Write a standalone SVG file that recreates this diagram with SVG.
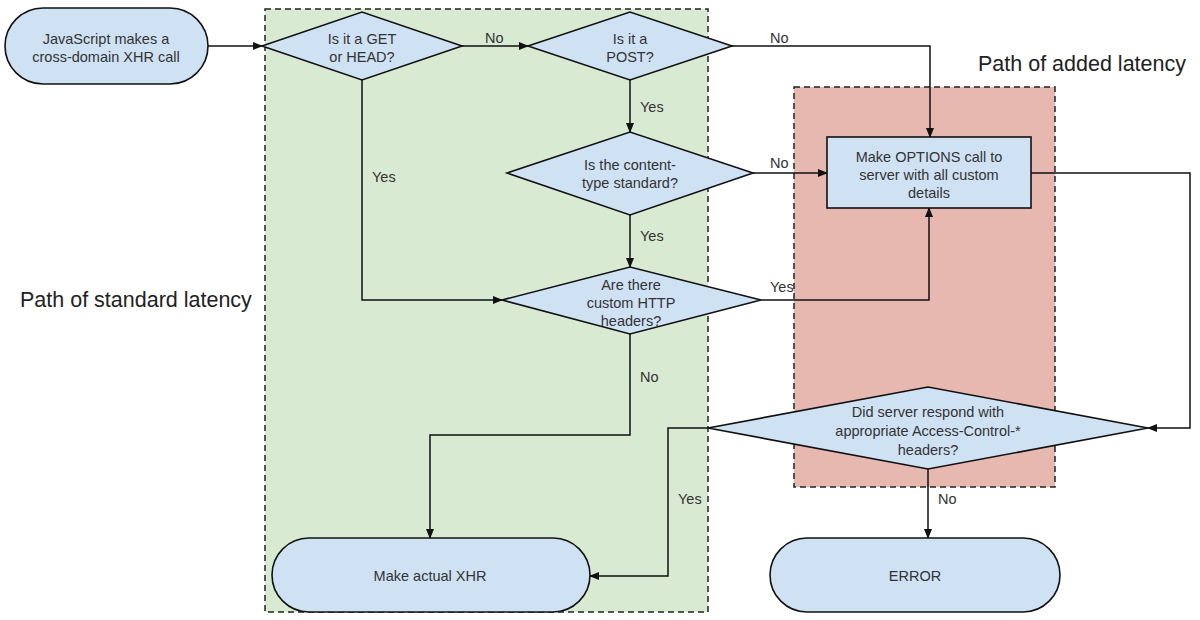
<svg xmlns="http://www.w3.org/2000/svg" width="1200" height="620" viewBox="0 0 1200 620">
<style>
.region{stroke:#222;stroke-width:1.5;stroke-dasharray:6 4}
.node{fill:#cfe2f3;stroke:#111;stroke-width:1.6}
.t{font-family:"Liberation Sans",Arial,sans-serif;font-size:14.5px;fill:#333;text-anchor:middle}
.lbl{font-family:"Liberation Sans",Arial,sans-serif;font-size:14.5px;fill:#333}
.big{font-family:"Liberation Sans",Arial,sans-serif;font-size:21.5px;fill:#222}
.c{fill:none;stroke:#111;stroke-width:1.5;marker-end:url(#ah)}
</style>
<defs>
<marker id="ah" markerWidth="10" markerHeight="8" refX="9" refY="4" orient="auto" markerUnits="userSpaceOnUse">
<path d="M0,0 L10,4 L0,8 z" fill="#111"/>
</marker>
</defs>
<rect width="1200" height="620" fill="#fff"/>
<g id="regions">
<rect class="region" x="265" y="9" width="443" height="603" fill="#d9ead3"/>
<rect class="region" x="794" y="87" width="261" height="400" fill="#e6b8af"/>
<text class="big" x="978" y="71">Path of added latency</text>
<text class="big" x="20" y="307">Path of standard latency</text>
</g>
<g id="connectors">
<path class="c" d="M208,46 H262"/>
<path class="c" d="M462,46 H528"/>
<path class="c" d="M732,46 H930 V137"/>
<path class="c" d="M630,80 V132"/>
<path class="c" d="M362,80 V300 H502"/>
<path class="c" d="M753,173 H827"/>
<path class="c" d="M630,215 V267"/>
<path class="c" d="M761,300 H929 V208"/>
<path class="c" d="M1031,173 H1190 V428 H1148"/>
<path class="c" d="M630,334 V435 H430 V538"/>
<path class="c" d="M708,428 H668 V576 H590"/>
<path class="c" d="M928,469 V538"/>
<text class="lbl" x="485" y="43">No</text>
<text class="lbl" x="770" y="43">No</text>
<text class="lbl" x="640" y="112">Yes</text>
<text class="lbl" x="372" y="182">Yes</text>
<text class="lbl" x="770" y="168">No</text>
<text class="lbl" x="640" y="241">Yes</text>
<text class="lbl" x="770" y="292">Yes</text>
<text class="lbl" x="640" y="382">No</text>
<text class="lbl" x="678" y="504">Yes</text>
<text class="lbl" x="938" y="504">No</text>
</g>
<g id="start">
<rect class="node" x="5" y="8" width="203" height="76" rx="38"/>
<text class="t" x="106" y="44">JavaScript makes a</text>
<text class="t" x="106" y="62">cross-domain XHR call</text>
</g>
<g id="d-get">
<polygon class="node" points="262,46 362,12 462,46 362,80"/>
<text class="t" x="362" y="44">Is it a GET</text>
<text class="t" x="362" y="62">or HEAD?</text>
</g>
<g id="d-post">
<polygon class="node" points="528,46 630,12 732,46 630,80"/>
<text class="t" x="630" y="44">Is it a</text>
<text class="t" x="630" y="62">POST?</text>
</g>
<g id="d-content">
<polygon class="node" points="507,173 630,132 753,173 630,215"/>
<text class="t" x="630" y="170">Is the content-</text>
<text class="t" x="630" y="188">type standard?</text>
</g>
<g id="d-headers">
<polygon class="node" points="502,300 630,267 761,300 630,334"/>
<text class="t" x="631" y="290">Are there</text>
<text class="t" x="631" y="308">custom HTTP</text>
<text class="t" x="631" y="326">headers?</text>
</g>
<g id="options">
<rect class="node" x="827" y="137" width="204" height="71"/>
<text class="t" x="929" y="162">Make OPTIONS call to</text>
<text class="t" x="929" y="180">server with all custom</text>
<text class="t" x="929" y="198">details</text>
</g>
<g id="d-server">
<polygon class="node" points="708,428 928,387 1148,428 928,469"/>
<text class="t" x="928" y="417">Did server respond with</text>
<text class="t" x="928" y="436">appropriate Access-Control-*</text>
<text class="t" x="928" y="455">headers?</text>
</g>
<g id="xhr">
<rect class="node" x="272" y="538" width="318" height="74" rx="37"/>
<text class="t" x="430" y="581">Make actual XHR</text>
</g>
<g id="error">
<rect class="node" x="770" y="538" width="290" height="74" rx="37"/>
<text class="t" x="915" y="581">ERROR</text>
</g>
</svg>
